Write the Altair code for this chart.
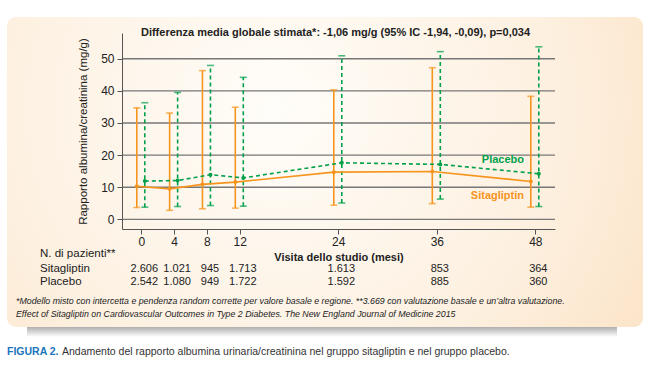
import altair as alt
import pandas as pd

# ---------------- data ----------------
months = [0, 4, 8, 12, 24, 36, 48]
sita_mean = [10.3, 9.5, 10.9, 11.6, 14.7, 14.9, 11.8]
sita_low = [3.7, 2.8, 3.3, 3.5, 4.4, 4.9, 3.8]
sita_high = [34.7, 33.1, 46.3, 34.9, 40.3, 47.2, 38.3]
plac_mean = [11.9, 12.1, 13.9, 12.9, 17.6, 17.1, 14.2]
plac_low = [3.8, 4.0, 4.3, 4.1, 5.1, 6.3, 4.0]
plac_high = [36.3, 39.5, 47.9, 44.2, 50.9, 52.2, 53.7]
n_sita = ["2.606", "1.021", "945", "1.713", "1.613", "853", "364"]
n_plac = ["2.542", "1.080", "949", "1.722", "1.592", "885", "360"]
y_ticks = [0, 10, 20, 30, 40, 50]

title_text = "Differenza media globale stimata*: -1,06 mg/g (95% IC -1,94, -0,09), p=0,034"
y_title = "Rapporto albumina/creatinina (mg/g)"
x_title = "Visita dello studio (mesi)"
foot1 = "*Modello misto con intercetta e pendenza random corrette per valore basale e regione. **3.669 con valutazione basale e un\u2019altra valutazione."
foot2 = "Effect of Sitagliptin on Cardiovascular Outcomes in Type 2 Diabetes. The New England Journal of Medicine 2015"
cap_bold = "FIGURA 2."
cap_rest = "Andamento del rapporto albumina urinaria/creatinina nel gruppo sitagliptin e nel gruppo placebo."

ORANGE = "#F7941D"
GREEN = "#00A04B"
FONT = "Liberation Sans"

W, H = 433, 196

df = pd.DataFrame({
    "month": months,
    "s_mean": sita_mean, "s_low": sita_low, "s_high": sita_high,
    "p_mean": plac_mean, "p_low": plac_low, "p_high": plac_high,
    "n_s": n_sita, "n_p": n_plac,
})
grid_df = pd.DataFrame({"v": y_ticks})
one = pd.DataFrame({"k": [0]})

xscale = alt.Scale(domain=[-2.35, 50.4], nice=False, zero=False)
yscale = alt.Scale(domain=[-3, 58], nice=False, zero=False)

Xax = alt.Axis(values=months, title=x_title, grid=False, tickSize=5,
               labelFontSize=12, labelPadding=2, titleFontSize=11,
               titleFontWeight="bold", titlePadding=4, domainColor="#555",
               tickColor="#555", labelColor="#222", titleColor="#222",
               labelFont=FONT, titleFont=FONT, zindex=1, labelOverlap=False)
Yax = alt.Axis(values=y_ticks, title=y_title, grid=False, tickSize=5,
               labelFontSize=12, labelPadding=3, labelOverlap=False,
               titleFontSize=11.5, titleFontWeight="normal", titlePadding=12,
               domainColor="#555", tickColor="#555", labelColor="#222",
               titleColor="#222", labelFont=FONT, titleFont=FONT, zindex=1)


def XE(field="month"):
    return alt.X(f"{field}:Q", scale=xscale, axis=Xax)


def YE(field):
    return alt.Y(f"{field}:Q", scale=yscale, axis=Yax)


def Y2E(field):
    return alt.Y2(f"{field}:Q")


bg = alt.Chart(one).mark_rect(
    cornerRadius=9,
    fill=alt.RadialGradient(gradient="radial",
                            stops=[alt.GradientStop(offset=0, color="#fffdf9"),
                                   alt.GradientStop(offset=0.55, color="#fdf0e0"),
                                   alt.GradientStop(offset=1, color="#fbdfbd")],
                            x1=0.42, y1=0.4, r1=0, x2=0.42, y2=0.4, r2=0.8),
).encode(x=alt.value(-115), x2=alt.value(521), y=alt.value(-16), y2=alt.value(294))

shadow = alt.Chart(one).mark_rect(
    fill=alt.LinearGradient(gradient="linear",
                            stops=[alt.GradientStop(offset=0, color="#9a9a9a"),
                                   alt.GradientStop(offset=1, color="#ffffff")],
                            x1=0, y1=0, x2=0, y2=1),
    opacity=0.8,
).encode(x=alt.value(-95), x2=alt.value(495), y=alt.value(294), y2=alt.value(304))

grid = alt.Chart(grid_df).mark_rule(color="#777777", strokeWidth=1.4).encode(
    y=YE("v"), x=alt.value(0), x2=alt.value(W))

base = alt.Chart(df)

SO, PO = -4.5, 3.5

s_rule = base.mark_rule(color=ORANGE, strokeWidth=1.6, xOffset=SO).encode(
    x=XE(), y=YE("s_low"), y2=Y2E("s_high"))
s_cap_hi = base.mark_tick(color=ORANGE, orient="horizontal", size=7, thickness=1.6, xOffset=SO).encode(
    x=XE(), y=YE("s_high"))
s_cap_lo = base.mark_tick(color=ORANGE, orient="horizontal", size=7, thickness=1.6, xOffset=SO).encode(
    x=XE(), y=YE("s_low"))
s_line = base.mark_line(color=ORANGE, strokeWidth=1.6, xOffset=SO).encode(
    x=XE(), y=YE("s_mean"))
s_pt = base.mark_circle(color=ORANGE, size=16, opacity=1, xOffset=SO).encode(
    x=XE(), y=YE("s_mean"))

p_rule = base.mark_rule(color=GREEN, strokeWidth=1.6, strokeDash=[4, 3], xOffset=PO).encode(
    x=XE(), y=YE("p_low"), y2=Y2E("p_high"))
p_cap_hi = base.mark_tick(color=GREEN, orient="horizontal", size=7, thickness=1.6, xOffset=PO).encode(
    x=XE(), y=YE("p_high"))
p_cap_lo = base.mark_tick(color=GREEN, orient="horizontal", size=7, thickness=1.6, xOffset=PO).encode(
    x=XE(), y=YE("p_low"))
p_line = base.mark_line(color=GREEN, strokeWidth=1.6, strokeDash=[4, 3], xOffset=PO).encode(
    x=XE(), y=YE("p_mean"))
p_pt = base.mark_circle(color=GREEN, size=16, opacity=1, xOffset=PO).encode(
    x=XE(), y=YE("p_mean"))


def txt(text, x, y, size=13, weight="normal", color="#222", align="left", style="normal"):
    return alt.Chart(one).mark_text(
        text=text, fontSize=size, fontWeight=weight, color=color, align=align,
        baseline="middle", font=FONT, fontStyle=style
    ).encode(x=alt.value(x), y=alt.value(y))


title = txt(title_text, 213.5, 0, size=11, weight="bold", align="center")
leg_p = txt("Placebo", 402, 127, size=11, weight="bold", color=GREEN, align="right")
leg_s = txt("Sitagliptin", 402, 163, size=11, weight="bold", color=ORANGE, align="right")
n_head = txt("N. di pazienti**", -82, 221, size=11.5)
row_s = txt("Sitagliptin", -82, 235.5, size=11.5)
row_p = txt("Placebo", -82, 249, size=11.5)
cnt_s = base.mark_text(fontSize=11, font=FONT, color="#222", dx=3, baseline="middle").encode(
    x=XE(), y=alt.value(235.5), text="n_s:N")
cnt_p = base.mark_text(fontSize=11, font=FONT, color="#222", dx=3, baseline="middle").encode(
    x=XE(), y=alt.value(249), text="n_p:N")
f1 = txt(foot1, -106, 268, size=8.8, style="italic")
f2 = txt(foot2, -106, 281, size=8.8, style="italic")
c1 = txt(cap_bold, -115, 319, size=10.5, weight="bold", color="#1b75bb")
c2 = txt(cap_rest, -60, 319, size=10.5, color="#333")

chart = alt.layer(
    bg, shadow, grid,
    s_rule, p_rule, s_cap_hi, s_cap_lo, p_cap_hi, p_cap_lo,
    s_line, p_line, s_pt, p_pt,
    title, leg_p, leg_s, n_head, row_s, row_p, cnt_s, cnt_p, f1, f2, c1, c2,
).properties(
    width=W, height=H,
    autosize=alt.AutoSizeParams(type="none"),
    padding={"left": 122, "top": 33, "right": 650 - 122 - W, "bottom": 377 - 33 - H},
    background="white",
).configure_view(stroke=None)

chart.save("out.html", embed_options={"renderer": "svg", "actions": False})
